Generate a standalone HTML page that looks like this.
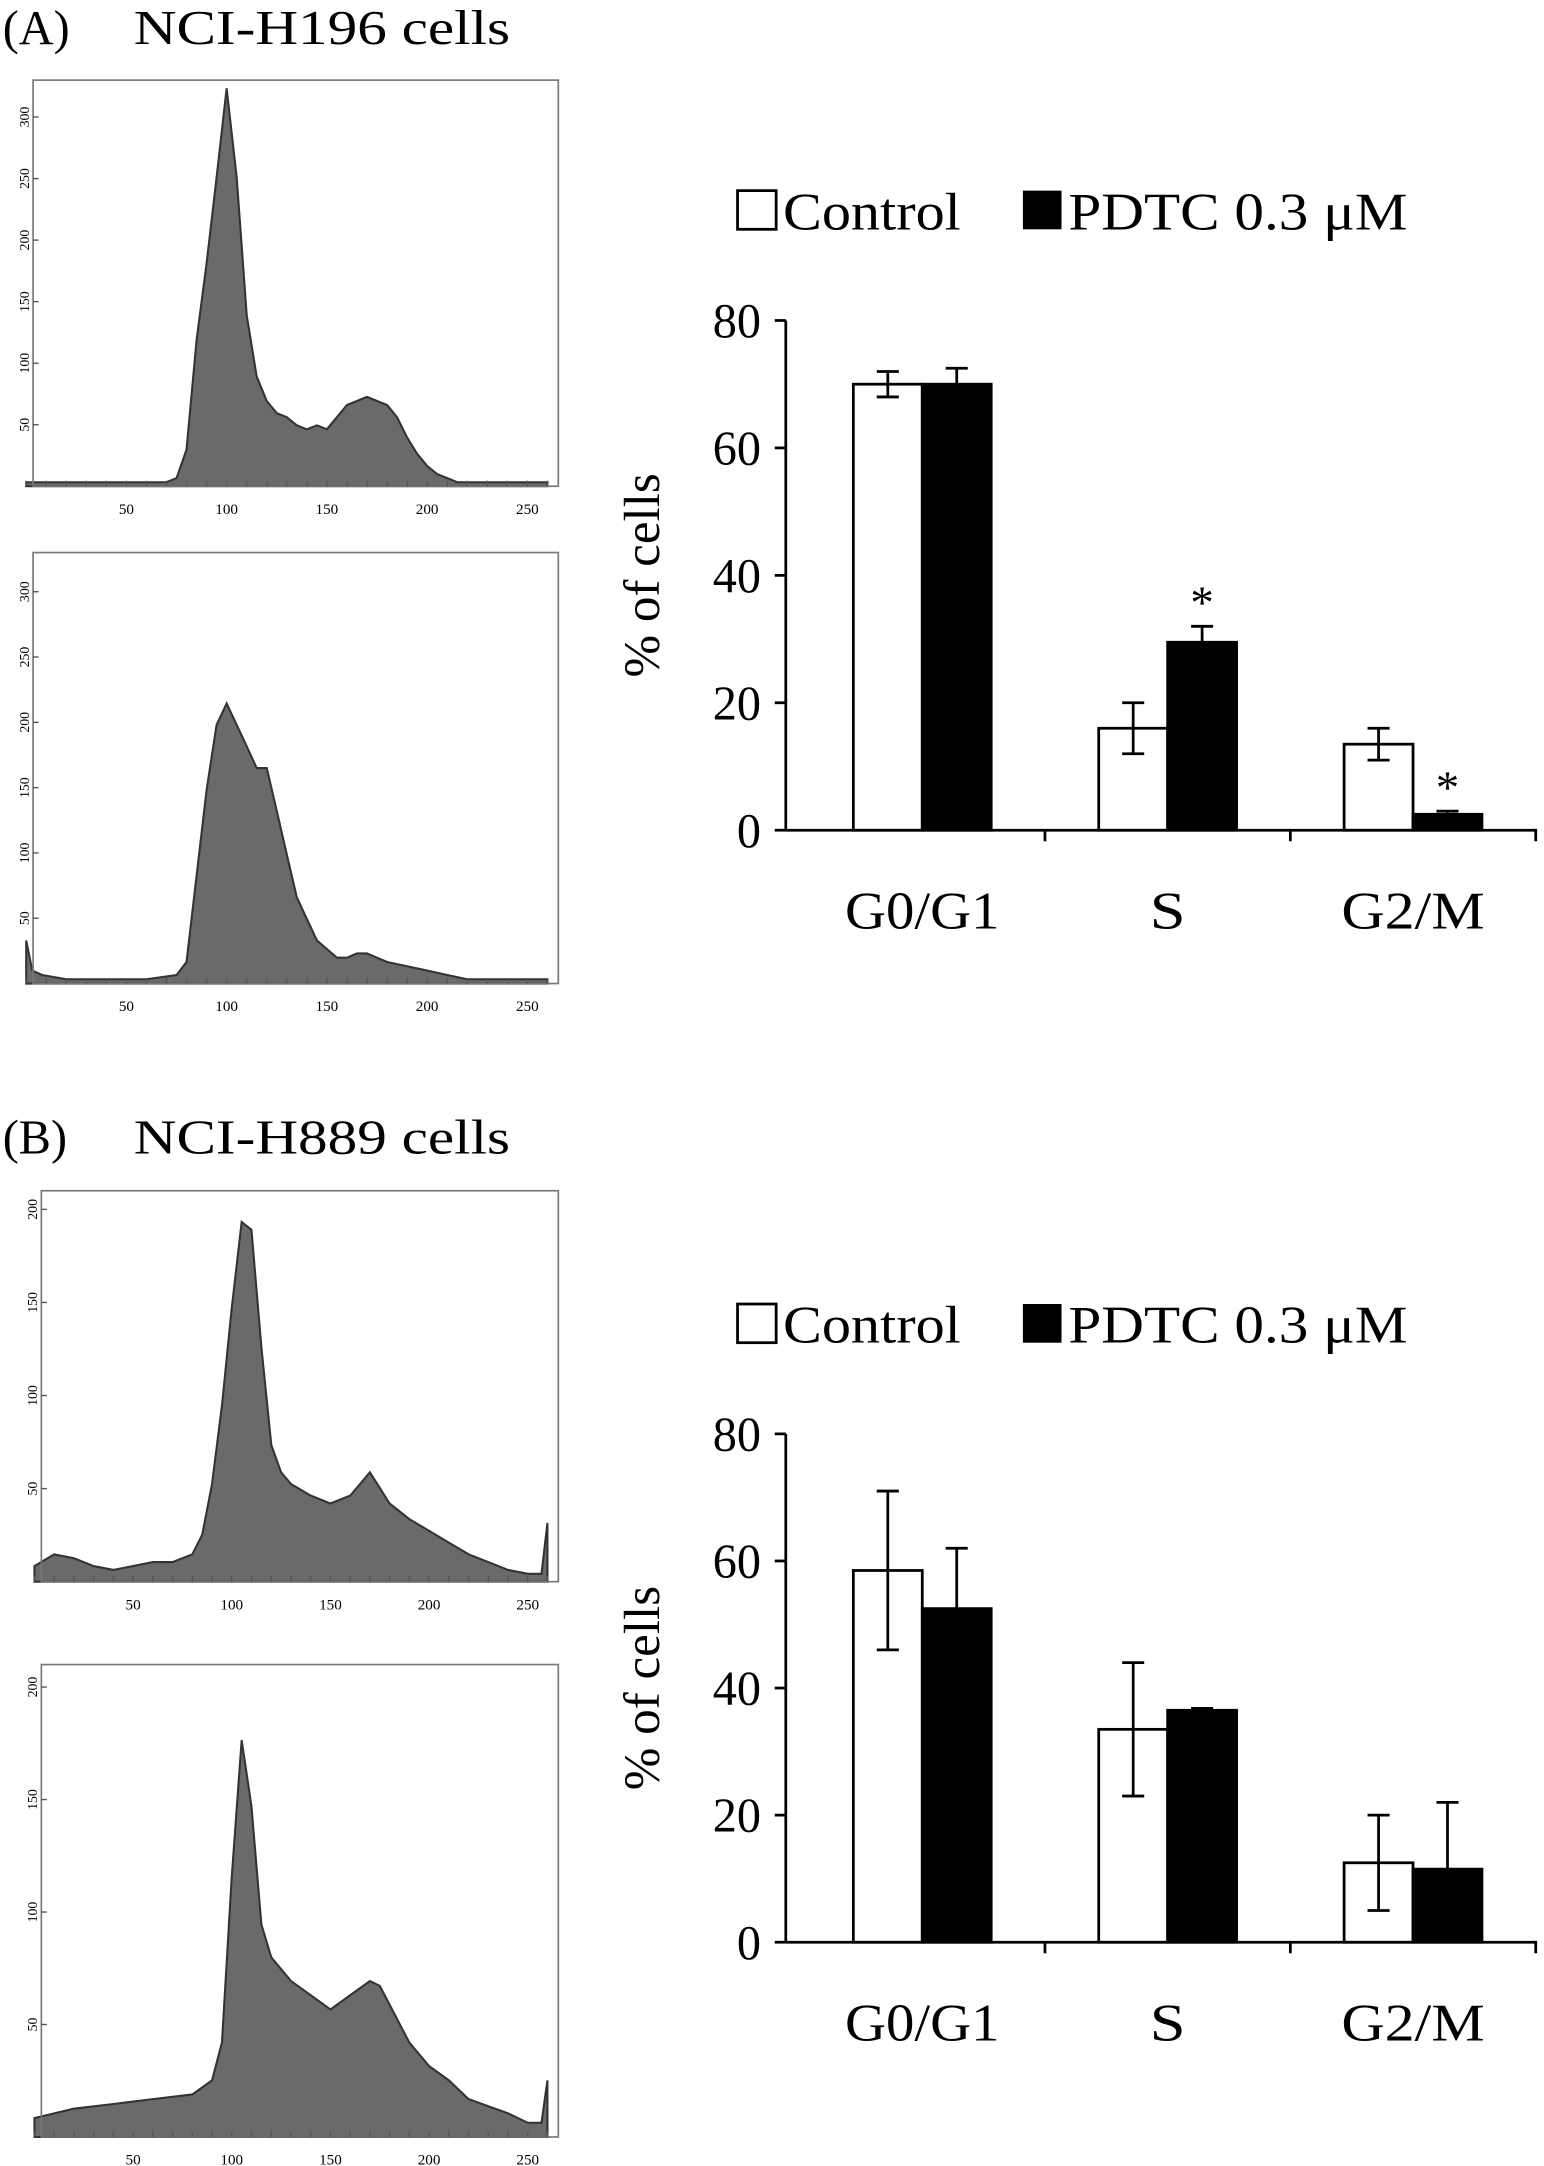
<!DOCTYPE html>
<html><head><meta charset="utf-8"><style>
html,body{margin:0;padding:0;background:#fff}
svg{display:block}
text{font-family:"Liberation Serif",serif;fill:#000}
</style></head><body>
<svg id="fig" width="1544" height="2166" viewBox="0 0 1120 1568" preserveAspectRatio="none" xmlns="http://www.w3.org/2000/svg">
<text x="2" y="32" font-size="35">(A)</text>
<text x="97" y="32" font-size="35" textLength="273" lengthAdjust="spacingAndGlyphs">NCI-H196 cells</text>
<text x="2" y="835" font-size="35">(B)</text>
<text x="97" y="835" font-size="35" textLength="273" lengthAdjust="spacingAndGlyphs">NCI-H889 cells</text>
<g id="hists"></g>
<g id="bars"></g>
</svg>
<script>
// ---- histogram data (channel, fractional height) ----
const histA1Ch=[0,20,40,60,70,75,80,85,90,95,100,105,110,115,120,125,130,135,140,145,150,155,160,165,170,175,180,185,190,195,200,205,210,215,220,240,260];
const histA1Val=[0.01,0.01,0.01,0.01,0.01,0.02,0.09,0.36,0.55,0.76,0.98,0.76,0.42,0.27,0.21,0.18,0.17,0.15,0.14,0.15,0.14,0.17,0.2,0.21,0.22,0.21,0.2,0.17,0.12,0.08,0.05,0.03,0.02,0.01,0.01,0.01,0.01];
const histA2Ch=[0,3,8,20,40,60,75,80,85,90,95,100,105,110,115,120,125,130,135,140,145,150,155,160,165,170,175,180,190,200,210,220,240,260];
const histA2Val=[0.1,0.03,0.02,0.01,0.01,0.01,0.02,0.05,0.25,0.45,0.6,0.65,0.6,0.55,0.5,0.5,0.4,0.3,0.2,0.15,0.1,0.08,0.06,0.06,0.07,0.07,0.06,0.05,0.04,0.03,0.02,0.01,0.01,0.01];
const histB1Ch=[0,10,20,30,40,50,60,70,80,85,90,95,100,105,110,115,120,125,130,140,150,160,165,170,175,180,190,200,210,220,230,240,250,257,260];
const histB1Val=[0.04,0.07,0.06,0.04,0.03,0.04,0.05,0.05,0.07,0.12,0.25,0.45,0.7,0.92,0.9,0.6,0.35,0.28,0.25,0.22,0.2,0.22,0.25,0.28,0.24,0.2,0.16,0.13,0.1,0.07,0.05,0.03,0.02,0.02,0.15];
const histB2Ch=[0,20,40,60,80,90,95,100,105,110,115,120,130,140,150,160,170,175,180,190,200,210,220,240,250,257,260];
const histB2Val=[0.04,0.06,0.07,0.08,0.09,0.12,0.2,0.55,0.84,0.7,0.45,0.38,0.33,0.3,0.27,0.3,0.33,0.32,0.28,0.2,0.15,0.12,0.08,0.05,0.03,0.03,0.12];
const histTicks=[50,100,150,200,250];
const histYTicksA=[0,50,100,150,200,250,300];
const histYTicksB=[0,50,100,150,200];

// ---- bar chart data ----
const categories=["G0/G1","S","G2/M"];
const seriesNames=["Control","PDTC 0.3 μM"];
const aControl=[70,16,13.5], aControlErr=[2,4,2.5];
const aPDTC=[70,29.5,2.5], aPDTCErr=[2.5,2.5,0.5];
const aStars=[[],[1],[1]];
const bControl=[58.5,33.5,12.5], bControlErr=[12.5,10.5,7.5];
const bPDTC=[52.5,36.5,11.5], bPDTCErr=[9.5,0.3,10.5];
const yTicks=[0,20,40,60,80];

const NS="http://www.w3.org/2000/svg";
function mk(tag,attrs,parent){const e=document.createElementNS(NS,tag);for(const k in attrs)e.setAttribute(k,attrs[k]);parent.appendChild(e);return e;}

function drawHist(g,box,ch,val,yt,ymax,name){
  const [x0,y0,x1,y1]=box;
  const gr=mk('g',{},g);
  
  
  const sx=c=>x0-5+(c)*(x1-x0)/262;
  const sy=v=>y1-v*(y1-y0);
  let d='M'+sx(ch[0])+','+y1;
  for(let i=0;i<ch.length;i++){
    d+=' L'+sx(ch[i]).toFixed(1)+','+sy(val[i]).toFixed(1);
  }
  d+=' L'+sx(ch[ch.length-1])+','+y1+' Z';
  const p=mk('path',{d:d,fill:'#6a6a6a',stroke:'#333','stroke-width':1.5},gr);
  
  
  const fr=mk('rect',{x:x0,y:y0,width:x1-x0,height:y1-y0,fill:'none',stroke:'#777','stroke-width':1.2},gr);
  
  
  for(let c=0;c<=260;c+=10){mk('line',{x1:sx(c),x2:sx(c),y1:y1,y2:y1-4,stroke:'#555','stroke-width':1},gr);}
  histTicks.forEach(t=>{
    const tx=mk('text',{x:sx(t),y:y1+20,'font-size':11,'text-anchor':'middle','font-family':'Liberation Sans',fill:'#444'},gr);
    tx.textContent=t;
    
    
  });
  yt.forEach(t=>{
    if(t===0)return;
    const yy=sy(t/ymax);
    mk('line',{x1:x0,x2:x0+4,y1:yy,y2:yy,stroke:'#555','stroke-width':1},gr);
    const tx=mk('text',{x:x0-3,y:yy,'font-size':10,'text-anchor':'middle','font-family':'Liberation Sans',fill:'#666',transform:`rotate(-90 ${x0-3} ${yy})`},gr);
    tx.textContent=t;
    
    
  });
}
const hg=document.getElementById('hists');
drawHist(hg,[24,58,405,352],histA1Ch,histA1Val,histYTicksA,330,'histogram-a-control');
drawHist(hg,[24,400,405,712],histA2Ch,histA2Val,histYTicksA,330,'histogram-a-pdtc');
drawHist(hg,[30,862,405,1145],histB1Ch,histB1Val,histYTicksB,210,'histogram-b-control');
drawHist(hg,[30,1205,405,1547],histB2Ch,histB2Val,histYTicksB,210,'histogram-b-pdtc');

function drawBars(g,top,bottom,legendY,ctrl,ctrlE,pdtc,pdtcE,stars,name){
  const gr=mk('g',{},g);
  
  
  const ax=570, axEnd=1115;
  const y=v=>bottom-(v/80)*(bottom-top);
  const gx=i=>669+i*178;
  const bw=50;
  const l1=mk('rect',{x:535,y:legendY-28,width:28,height:28,fill:'#fff',stroke:'#000','stroke-width':2},gr);
  
  const lt1=mk('text',{x:568,y:legendY,'font-size':38,textLength:129,lengthAdjust:'spacingAndGlyphs'},gr);lt1.textContent=seriesNames[0];
  
  const l2=mk('rect',{x:742,y:legendY-28,width:28,height:28,fill:'#000'},gr);
  
  const lt2=mk('text',{x:775,y:legendY,'font-size':38,textLength:246,lengthAdjust:'spacingAndGlyphs'},gr);lt2.textContent=seriesNames[1];
  
  const ya=mk('line',{x1:ax,x2:ax,y1:top,y2:bottom,stroke:'#000','stroke-width':2},gr);
  
  const xa=mk('line',{x1:ax,x2:axEnd,y1:bottom,y2:bottom,stroke:'#000','stroke-width':2},gr);
  
  yTicks.forEach(t=>{
    mk('line',{x1:ax-8,x2:ax,y1:y(t),y2:y(t),stroke:'#000','stroke-width':2},gr);
    const tx=mk('text',{x:ax-18,y:y(t)+12,'font-size':35,'text-anchor':'end'},gr);
    tx.textContent=t;
    
  });
  [0,1,2].forEach(i=>{const tx=gx(i)+89;mk('line',{x1:tx,x2:tx,y1:bottom,y2:bottom+8,stroke:'#000','stroke-width':2},gr);});
  const yl=mk('text',{x:0,y:0,'font-size':37,'text-anchor':'middle',transform:`translate(478 ${(top+bottom)/2}) rotate(-90)`},gr);
  yl.textContent='% of cells';
  
  const lens=[112,26,104];
  categories.forEach((c,i)=>{
    const cx=gx(i);
    const series=[[ctrl[i],ctrlE[i],'#fff','control'],[pdtc[i],pdtcE[i],'#000','pdtc']];
    series.forEach((s,j)=>{
      const bx=cx-bw+j*bw;
      const r=mk('rect',{x:bx,y:y(s[0]),width:bw,height:bottom-y(s[0]),fill:s[2],stroke:'#000','stroke-width':2},gr);
      
      
      const ex=bx+bw/2;
      const e=mk('path',{d:`M${ex},${y(s[0]-s[1])}V${y(s[0]+s[1])}M${ex-8},${y(s[0]+s[1])}H${ex+8}M${ex-8},${y(s[0]-s[1])}H${ex+8}`,stroke:'#000','stroke-width':2,fill:'none'},gr);
      
      if(j===1 && stars[i].length){
        const st=mk('text',{x:ex,y:y(s[0]+s[1])-6,'font-size':34,'text-anchor':'middle'},gr);
        st.textContent='*';
        
      }
    });
    const cl=mk('text',{x:cx,y:bottom+71,'font-size':38,'text-anchor':'middle',textLength:lens[i],lengthAdjust:'spacingAndGlyphs'},gr);
    cl.textContent=c;
    
  });
}
const bg=document.getElementById('bars');
drawBars(bg,232,601,166,aControl,aControlErr,aPDTC,aPDTCErr,aStars,'bar-chart-a');
drawBars(bg,1038,1406,972,bControl,bControlErr,bPDTC,bPDTCErr,[[],[],[]],'bar-chart-b');
</script>
</body></html>
